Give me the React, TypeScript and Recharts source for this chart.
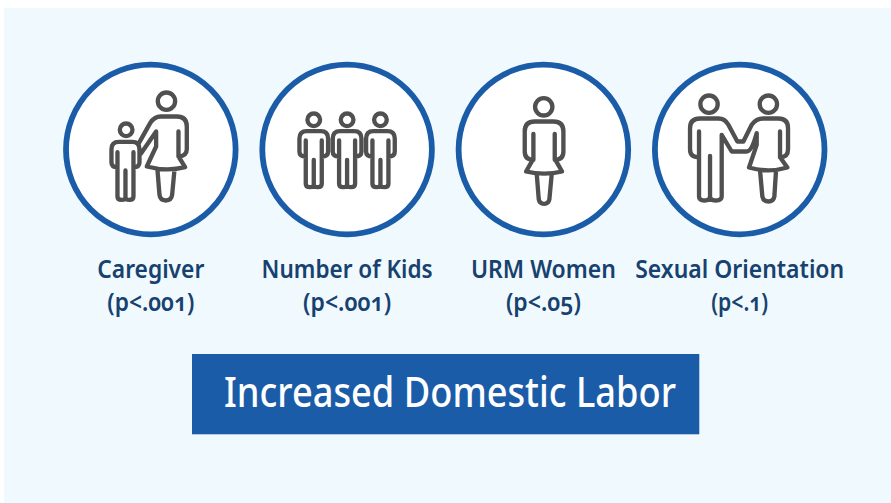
import React from "react";
import { ScatterChart, Scatter, XAxis, YAxis, Customized } from "recharts";

const categories = ["Caregiver", "Number of Kids", "URM Women", "Sexual Orientation"];
const pLabels = ["(p<.001)", "(p<.001)", "(p<.05)", "(p<.1)"];
const levels = [1, 1, 1, 1];
const icons = ["caregiver", "kids", "woman", "couple"];
const bannerLabel = "Increased Domestic Labor";

const rows = categories.map((category, i) => ({ category, level: levels[i], icon: icons[i], p: pLabels[i] }));

const BLUE = "#1b5ca8";
const NAVY = "#17416e";
const GREY = "#505050";
const FONT = "'Noto Sans', sans-serif";
const nameWidths = [107, 171, 145, 209];
const pWidths = [87, 88, 75, 57];

function boy(cx: number, sh: number, armB: number, legB: number, a = 42, s = 24, slit = 30, crotch = 10) {
  return `M${cx - s} ${sh + slit}V${legB - 10}Q${cx - s} ${legB} ${cx - s / 2} ${legB}Q${cx} ${legB} ${cx} ${legB - 8}V${armB + crotch}` +
    `M${cx} ${legB - 8}Q${cx} ${legB} ${cx + s / 2} ${legB}Q${cx + s} ${legB} ${cx + s} ${legB - 10}V${sh + slit}` +
    `M${cx - s} ${armB}Q${cx - a} ${armB} ${cx - a} ${armB - 14}V${sh + 22}Q${cx - a} ${sh} ${cx - a + 22} ${sh}H${cx + a - 22}Q${cx + a} ${sh} ${cx + a} ${sh + 22}V${armB - 14}Q${cx + a} ${armB} ${cx + s} ${armB}`;
}

type Art = { ox: number; heads: [number, number, number][]; d: string };
const art: Record<string, Art> = {
  caregiver: {
    ox: 302,
    heads: [[349, 154, 26], [228, 240, 19]],
    d: boy(226, 276, 352, 450, 42, 24, 31, 10) +
      "M265 282L300 220Q312 200 332 200H380Q410 200 410 230V298Q410 318 385 320V245M385 320L405 352Q350 366 290 350L318 290V245L272 312" +
      "M322 360L328 435Q330 452 347 452Q364 452 366 435L373 360",
  },
  kids: {
    ox: 892,
    heads: [[792, 210, 19], [892, 210, 19], [992, 210, 19]],
    d: boy(792, 244, 320, 412, 43, 24, 28, 10) + boy(892, 244, 320, 412, 43, 24, 28, 10) + boy(992, 244, 320, 412, 43, 24, 28, 10),
  },
  woman: {
    ox: 280,
    heads: [[281, 171, 26]],
    d: "M250 252V330Q224 330 224 305V245Q224 215 254 215H310Q340 215 340 245V305Q340 330 314 330V252" +
      "M248 330L228 365Q282 378 336 365L316 330M260 372L266 448Q268 462 282 462Q296 462 298 448L305 372",
  },
  couple: {
    ox: 869,
    heads: [[777, 163, 26], [955, 163, 26]],
    d: "M747 245V322Q720 322 720 298V235Q720 206 750 206H805Q825 206 835 225L862 275H880L905 225Q918 206 940 206H985Q1014 206 1014 235V298Q1014 322 990 322V245" +
      "M747 322V440Q747 452 763 452Q780 452 780 440V318M780 440Q780 452 797 452Q815 452 815 440V255L845 305H890Q905 305 920 250V285L897 353Q955 370 1012 353L990 322" +
      "M930 362L937 440Q940 455 955 455Q970 455 973 440L978 362",
  },
};

function Medallion(props: any) {
  const { cx, cy, payload } = props;
  const a = art[payload.icon];
  return (
    <g>
      <circle cx={cx} cy={cy} r={84.8} fill="#ffffff" stroke={BLUE} strokeWidth={5.8} />
      <g transform={`translate(${cx} ${cy}) scale(${1 / 3}) translate(${-a.ox} -299)`} fill="none" stroke={GREY} strokeWidth={13} strokeLinejoin="round" strokeLinecap="round">
        {a.heads.map(([x, y, r], i) => <circle key={i} cx={x} cy={y} r={r} />)}
        <path d={a.d} />
      </g>
    </g>
  );
}

function LabelTick(props: any) {
  const { x, y, payload, index } = props;
  const style: React.CSSProperties = { fontFeatureSettings: '"onum"' };
  const common = { x, textAnchor: "middle" as const, fontFamily: FONT, fontWeight: 600, fontSize: 25, fill: NAVY, style, lengthAdjust: "spacingAndGlyphs" };
  return (
    <g>
      <text {...common} y={y + 22} textLength={nameWidths[index]}>{payload.value}</text>
      <text {...common} y={y + 55} textLength={pWidths[index]}>{pLabels[index]}</text>
    </g>
  );
}

function Banner() {
  return (
    <g>
      <rect x={192} y={354} width={507.3} height={80.3} fill={BLUE} />
      <text x={450} y={406.5} textAnchor="middle" fontFamily={FONT} fontWeight={500} fontSize={41.5} fill="#ffffff" textLength={452} lengthAdjust="spacingAndGlyphs">{bannerLabel}</text>
    </g>
  );
}

export default function App() {
  return (
    <div style={{ position: "absolute", left: 0, top: 0, width: 891, height: 503, background: "#ffffff", overflow: "hidden" }}>
      <div style={{ position: "absolute", left: 4, top: 8, right: 0, bottom: 0, background: "#f0f9fd" }} />
      <div style={{ position: "absolute", left: 0, top: 0 }}>
        <ScatterChart width={891} height={503} margin={{ top: 49.5, right: 0, bottom: 193.5, left: 0 }}>
          <XAxis dataKey="category" type="category" scale="point" allowDuplicatedCategory={false}
            padding={{ left: 150.8, right: 151.3 }} axisLine={false} tickLine={false} tickMargin={0} height={60} interval={0} tick={<LabelTick />} />
          <YAxis dataKey="level" type="number" domain={[0, 2]} hide />
          <Scatter data={rows} isAnimationActive={false} shape={<Medallion />} />
          <Customized component={Banner} />
        </ScatterChart>
      </div>
    </div>
  );
}
